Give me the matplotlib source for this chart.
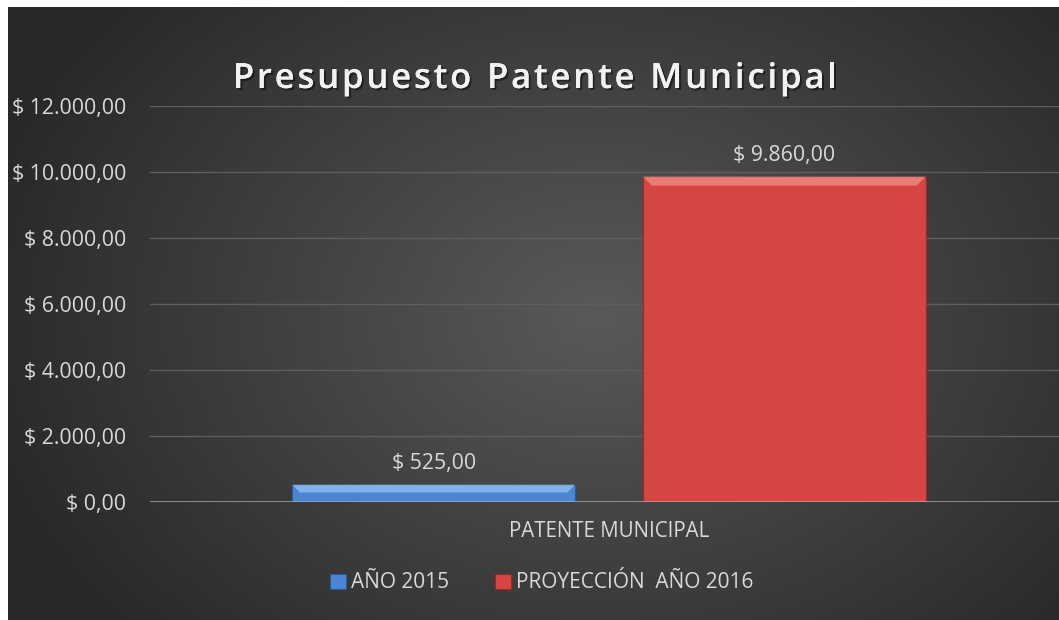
import numpy as np
import matplotlib.pyplot as plt
from matplotlib.patches import Polygon
import matplotlib.patheffects as pe

series = ['AÑO 2015', 'PROYECCIÓN  AÑO 2016']
values = [525.0, 9860.0]
category = 'PATENTE MUNICIPAL'
labels = ['$ 525,00', '$ 9.860,00']
yticks = [0, 2000, 4000, 6000, 8000, 10000, 12000]
title = 'Presupuesto Patente Municipal'
colors = ['#4a86d4', '#d64541']
light = ['#8fc0f5', '#f08a86']
dark = ['#2c5a9c', '#9c2a28']

def money(v):
    s = f"{v:,.2f}".replace(',', 'X').replace('.', ',').replace('X', '.')
    return '$ ' + s

W, H = 1059, 620
fig = plt.figure(figsize=(W / 100, H / 100), dpi=100)
fig.patch.set_facecolor('white')

# background with radial gradient
bg = fig.add_axes([8 / W, 0, 1 - 8 / W, 1 - 7 / H])
yy, xx = np.mgrid[0:300, 0:500]
r = np.sqrt(((xx - 280) / 300) ** 2 + ((yy - 150) / 230) ** 2)
r = np.clip(r, 0, 1)
g = 0.35 - 0.19 * r
img = np.dstack([g, g, g])
bg.imshow(img, aspect='auto', extent=[0, 1, 0, 1], interpolation='bilinear')
bg.set_axis_off()

font = ['Open Sans', 'DejaVu Sans']
fs = 15.3
ax = fig.add_axes([150 / W, (H - 502) / H, 918 / W, 396 / H])
ax.patch.set_alpha(0)
ax.set_xlim(-0.5, 0.5)
ax.set_ylim(0, 12000)
ax.set_yticks(yticks)
ax.set_yticklabels([money(v) for v in yticks], family=font, fontsize=fs, color='#d9d9d9')
ax.tick_params(axis='y', length=0, pad=17)
ax.set_xticks([0])
ax.set_xticklabels([category], family=font, fontsize=fs - 0.5, color='#d9d9d9')
ax.tick_params(axis='x', length=0, pad=14)
for s in ax.spines.values():
    s.set_visible(False)
ax.grid(axis='y', color='#5e5e5e', linewidth=1)
ax.set_axisbelow(True)
ax.axhline(0, color='#a6a6a6', linewidth=1.8, zorder=4)

width = 0.308
offsets = [-0.191, 0.191]
px = 12000 / 396
for i, (v, off) in enumerate(zip(values, offsets)):
    x0, x1 = off - width / 2, off + width / 2
    ax.bar(off, v, width=width, color=colors[i], edgecolor=dark[i], linewidth=0.8,
           zorder=3, label=series[i])
    bev = min(9 * px, v * 0.45)
    dx = bev / px / 918
    top = Polygon([[x0, v], [x1, v], [x1 - dx, v - bev], [x0 + dx, v - bev]],
                  closed=True, facecolor=light[i], edgecolor='none', alpha=0.8, zorder=3.5)
    ax.add_patch(top)
    ax.text(off, v + 11 * px, labels[i], ha='center', va='bottom', family=font,
            fontsize=fs, color='#d9d9d9', zorder=5)

# title drawn letter by letter to get the wide spacing
renderer = fig.canvas.get_renderer()
shadow = [pe.withSimplePatchShadow(offset=(1.5, -1.5), shadow_rgbFace='black', alpha=0.45), pe.Normal()]
spacing = 2.8
tprops = dict(family=font, fontsize=25, fontweight='semibold', color='#f2f2f2', va='center', ha='left',
              path_effects=shadow)
widths = []
for ch in title:
    t = fig.text(0, 0, ch if ch != ' ' else 'a', **tprops)
    widths.append(t.get_window_extent(renderer).width * (0.5 if ch == ' ' else 1))
    t.remove()
total = sum(widths) + spacing * (len(title) - 1)
xpos = 535 - total / 2
for ch, w in zip(title, widths):
    if ch != ' ':
        fig.text(xpos / W, 1 - 79 / H, ch, **tprops)
    xpos += w + spacing

leg = ax.legend(loc='center', bbox_to_anchor=(542 / W, 1 - 583 / H), bbox_transform=fig.transFigure,
                ncol=2, frameon=False, handlelength=0.75, handleheight=0.75, handletextpad=0.25,
                columnspacing=2.2, prop={'family': font, 'size': fs - 0.3})
for t in leg.get_texts():
    t.set_color('#d9d9d9')

fig.savefig('out.png', dpi=100, facecolor=fig.get_facecolor())
